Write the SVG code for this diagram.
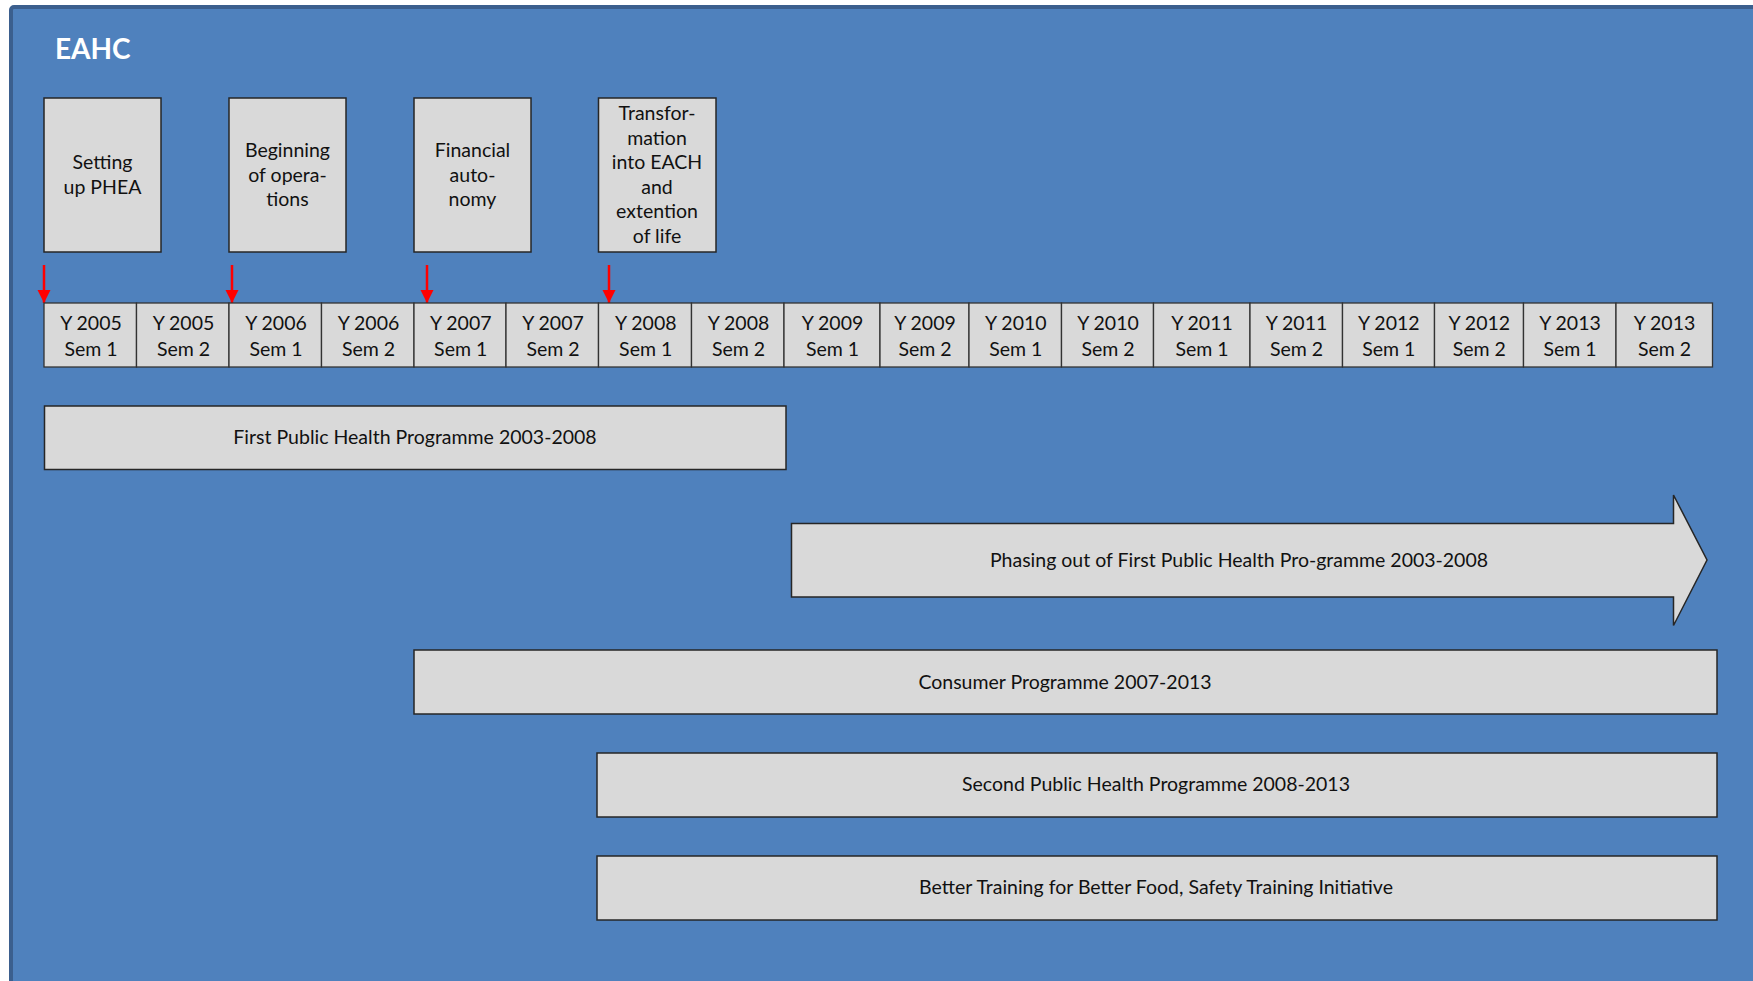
<svg xmlns="http://www.w3.org/2000/svg" width="1753" height="981" viewBox="0 0 1753 981">
<style>
.box{fill:#d9d9d9;stroke:#262626;stroke-width:1.5}
.cell{fill:#d9d9d9;stroke:#333333;stroke-width:1.3}
.t{font-family:Lato,"Liberation Sans",sans-serif;font-size:19.5px;fill:#111111;text-anchor:middle}
.title{font-family:Lato,"Liberation Sans",sans-serif;font-size:28px;font-weight:bold;fill:#ffffff}
.arr{stroke:#ff0000;stroke-width:2.5;fill:none;marker-end:url(#head)}
</style>
<defs>
<marker id="head" markerUnits="userSpaceOnUse" markerWidth="14" markerHeight="14" refX="13" refY="6.5" orient="auto">
<path d="M0,0 L13,6.5 L0,13 Z" fill="#ff0000"/>
</marker>
</defs>
<rect x="0" y="0" width="1753" height="981" fill="#ffffff"/>
<rect id="frame" x="11" y="7" width="1760" height="990" rx="3" fill="#4f81bd" stroke="#3b5f8e" stroke-width="4"/>
<text class="title" x="55" y="59">EAHC</text>

<g id="event1">
<rect class="box" x="44" y="98" width="117" height="154"/>
<text class="t" x="102.5" y="169">Setting</text>
<text class="t" x="102.5" y="194">up PHEA</text>
</g>
<g id="event2">
<rect class="box" x="229" y="98" width="117" height="154"/>
<text class="t" x="287.5" y="157">Beginning</text>
<text class="t" x="287.5" y="181.5">of opera-</text>
<text class="t" x="287.5" y="206">tions</text>
</g>
<g id="event3">
<rect class="box" x="414" y="98" width="117" height="154"/>
<text class="t" x="472.5" y="157">Financial</text>
<text class="t" x="472.5" y="181.5">auto-</text>
<text class="t" x="472.5" y="206">nomy</text>
</g>
<g id="event4">
<rect class="box" x="598.5" y="98" width="117.5" height="154"/>
<text class="t" x="657" y="120">Transfor-</text>
<text class="t" x="657" y="144.5">mation</text>
<text class="t" x="657" y="169">into EACH</text>
<text class="t" x="657" y="193.5">and</text>
<text class="t" x="657" y="218">extention</text>
<text class="t" x="657" y="243">of life</text>
</g>

<g id="connectors">
<line class="arr" x1="44" y1="265" x2="44" y2="303"/>
<line class="arr" x1="232" y1="265" x2="232" y2="303"/>
<line class="arr" x1="427" y1="265" x2="427" y2="303"/>
<line class="arr" x1="609" y1="265" x2="609" y2="303"/>
</g>

<g id="timeline">
<rect class="cell" x="44" y="303" width="92.5" height="64"/>
<rect class="cell" x="136.5" y="303" width="92.5" height="64"/>
<rect class="cell" x="229" y="303" width="92.5" height="64"/>
<rect class="cell" x="321.5" y="303" width="92.5" height="64"/>
<rect class="cell" x="414" y="303" width="92" height="64"/>
<rect class="cell" x="506" y="303" width="92.5" height="64"/>
<rect class="cell" x="598.5" y="303" width="93" height="64"/>
<rect class="cell" x="691.5" y="303" width="92.5" height="64"/>
<rect class="cell" x="784" y="303" width="96" height="64"/>
<rect class="cell" x="880" y="303" width="89" height="64"/>
<rect class="cell" x="969" y="303" width="92.5" height="64"/>
<rect class="cell" x="1061.5" y="303" width="92" height="64"/>
<rect class="cell" x="1153.5" y="303" width="96.5" height="64"/>
<rect class="cell" x="1250" y="303" width="92.5" height="64"/>
<rect class="cell" x="1342.5" y="303" width="92" height="64"/>
<rect class="cell" x="1434.5" y="303" width="89" height="64"/>
<rect class="cell" x="1523.5" y="303" width="92.5" height="64"/>
<rect class="cell" x="1616" y="303" width="96.5" height="64"/>
<g class="t">
<text class="t" x="91" y="330">Y 2005</text><text class="t" x="91" y="356">Sem 1</text>
<text class="t" x="183.5" y="330">Y 2005</text><text class="t" x="183.5" y="356">Sem 2</text>
<text class="t" x="276" y="330">Y 2006</text><text class="t" x="276" y="356">Sem 1</text>
<text class="t" x="368.5" y="330">Y 2006</text><text class="t" x="368.5" y="356">Sem 2</text>
<text class="t" x="460.7" y="330">Y 2007</text><text class="t" x="460.7" y="356">Sem 1</text>
<text class="t" x="553" y="330">Y 2007</text><text class="t" x="553" y="356">Sem 2</text>
<text class="t" x="645.7" y="330">Y 2008</text><text class="t" x="645.7" y="356">Sem 1</text>
<text class="t" x="738.5" y="330">Y 2008</text><text class="t" x="738.5" y="356">Sem 2</text>
<text class="t" x="832.5" y="330">Y 2009</text><text class="t" x="832.5" y="356">Sem 1</text>
<text class="t" x="925" y="330">Y 2009</text><text class="t" x="925" y="356">Sem 2</text>
<text class="t" x="1015.8" y="330">Y 2010</text><text class="t" x="1015.8" y="356">Sem 1</text>
<text class="t" x="1108" y="330">Y 2010</text><text class="t" x="1108" y="356">Sem 2</text>
<text class="t" x="1202" y="330">Y 2011</text><text class="t" x="1202" y="356">Sem 1</text>
<text class="t" x="1296.5" y="330">Y 2011</text><text class="t" x="1296.5" y="356">Sem 2</text>
<text class="t" x="1388.8" y="330">Y 2012</text><text class="t" x="1388.8" y="356">Sem 1</text>
<text class="t" x="1479.3" y="330">Y 2012</text><text class="t" x="1479.3" y="356">Sem 2</text>
<text class="t" x="1570" y="330">Y 2013</text><text class="t" x="1570" y="356">Sem 1</text>
<text class="t" x="1664.5" y="330">Y 2013</text><text class="t" x="1664.5" y="356">Sem 2</text>
</g>
</g>

<g id="first-php">
<rect class="box" x="44.5" y="406" width="741.5" height="63.5"/>
<text class="t" x="415" y="444">First Public Health Programme 2003-2008</text>
</g>
<g id="phasing-out">
<polygon class="box" points="791.5,523.5 1673.5,523.5 1673.5,495 1707,560 1673.5,625.5 1673.5,597 791.5,597"/>
<text class="t" x="1239" y="567">Phasing out of First Public Health Pro-gramme 2003-2008</text>
</g>
<g id="consumer">
<rect class="box" x="414" y="650" width="1303" height="64"/>
<text class="t" x="1065" y="689">Consumer Programme 2007-2013</text>
</g>
<g id="second-php">
<rect class="box" x="597" y="753" width="1120" height="64"/>
<text class="t" x="1156" y="791">Second Public Health Programme 2008-2013</text>
</g>
<g id="btsf">
<rect class="box" x="597" y="856" width="1120" height="64"/>
<text class="t" x="1156" y="894">Better Training for Better Food, Safety Training Initiative</text>
</g>
</svg>
